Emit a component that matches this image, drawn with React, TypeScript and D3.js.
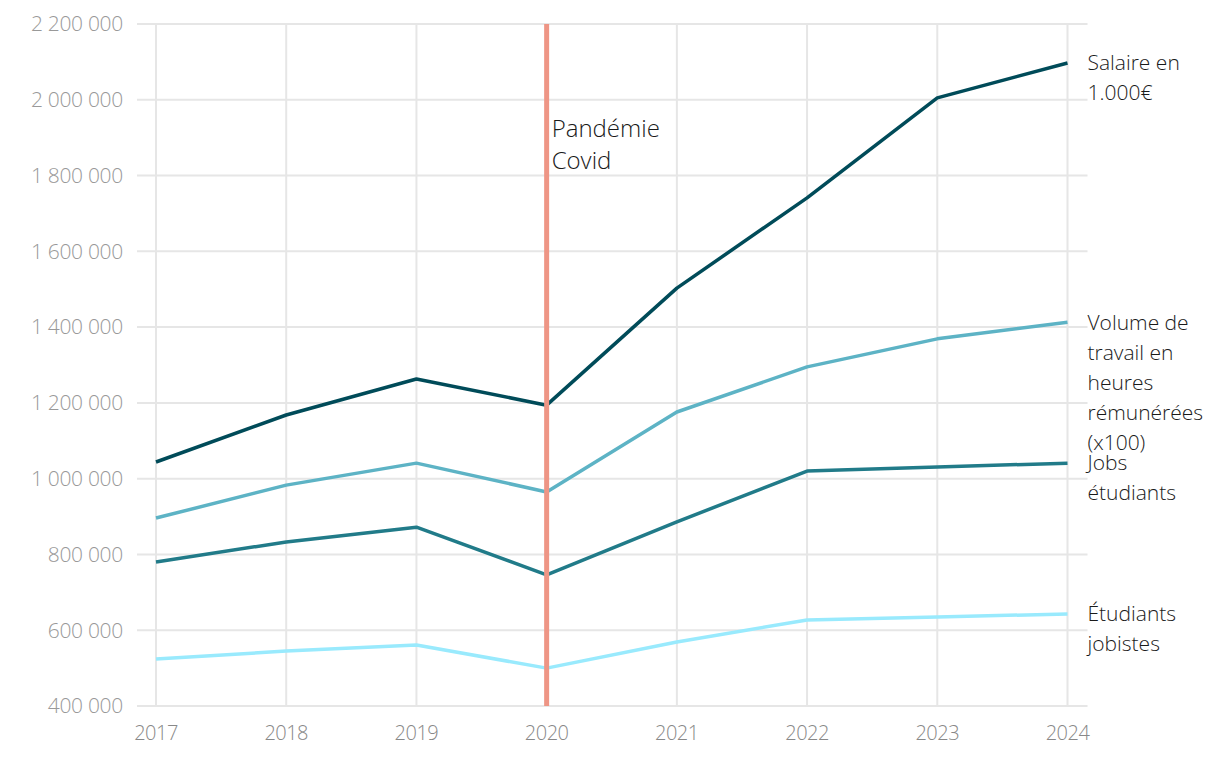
import * as React from 'react'
import * as d3 from 'd3'

const years = [2017, 2018, 2019, 2020, 2021, 2022, 2023, 2024]

const salaire = [1044000, 1168000, 1263000, 1194000, 1503000, 1741000, 2005000, 2097000]
const volume = [896000, 983000, 1041000, 965000, 1176000, 1295000, 1369000, 1413000]
const jobs = [780000, 833000, 872000, 746000, 886000, 1020000, 1031000, 1041000]
const etudiants = [524000, 545000, 561000, 500000, 569000, 627000, 635000, 643000]

const yTicks = [400000, 600000, 800000, 1000000, 1200000, 1400000, 1600000, 1800000, 2000000, 2200000]

const series = [
  { name: ['Salaire en', '1.000€'], values: salaire, color: '#004b59' },
  { name: ['Volume de', 'travail en', 'heures', 'rémunérées', '(x100)'], values: volume, color: '#5db3c5' },
  { name: ['Jobs', 'étudiants'], values: jobs, color: '#217b89' },
  { name: ['Étudiants', 'jobistes'], values: etudiants, color: '#99eafd' },
]

const covidYear = 2020
const covidLabel = ['Pandémie', 'Covid']

const W = 1204
const H = 750
const font = '"Open Sans", Lato, sans-serif'

export default function App() {
  const x = d3.scaleLinear().domain([2017, 2024]).range([148, 1059.5])
  const y = d3.scaleLinear().domain([400000, 2200000]).range([698, 16])
  const fmt = (v: number) => d3.format(',')(v).replace(/,/g, ' ')
  const line = d3
    .line<number>()
    .x((_, i) => x(years[i]))
    .y(d => y(d))

  const gridX0 = x(2017) - 19
  const gridX1 = x(2024) + 20

  return (
    <svg width={W} height={H} style={{ display: 'block', fontFamily: font }}>
      {/* grid */}
      {yTicks.map(t => (
        <line key={t} x1={gridX0} x2={gridX1} y1={y(t)} y2={y(t)} stroke="#e6e6e6" strokeWidth={2} />
      ))}
      {years.map(yr => (
        <line key={yr} x1={x(yr)} x2={x(yr)} y1={y(2200000)} y2={y(400000)} stroke="#e6e6e6" strokeWidth={2} />
      ))}
      {yTicks.map(t => (
        <text key={t} x={115} y={y(t)} dy="0.35em" textAnchor="end" fontSize={21} fontWeight={300} fill="#999" letterSpacing={-0.3}>
          {fmt(t)}
        </text>
      ))}
      {years.map(yr => (
        <text key={yr} x={x(yr)} y={y(400000) + 34} textAnchor="middle" fontSize={20} fontWeight={300} fill="#888" letterSpacing={-0.5}>
          {yr}
        </text>
      ))}

      {/* lines */}
      {series.map(s => (
        <path key={s.name[0]} d={line(s.values) || ''} fill="none" stroke={s.color} strokeWidth={3.5} strokeLinejoin="round" />
      ))}

      {/* covid marker */}
      <line x1={x(covidYear)} x2={x(covidYear)} y1={y(2200000)} y2={y(400000)} stroke="#ee9585" strokeWidth={5} />
      <text x={x(covidYear) + 5} fontSize={24} fontWeight={300} fill="#1a1a1a">
        {covidLabel.map((l, i) => (
          <tspan key={l} x={x(covidYear) + 5} y={y(2000000) + 37 + i * 32}>
            {l}
          </tspan>
        ))}
      </text>

      {/* series labels */}
      {series.map(s => {
        const last = s.values[s.values.length - 1]
        return (
          <text key={s.name[0]} fontSize={21} fontWeight={300} fill="#1a1a1a">
            {s.name.map((l, i) => (
              <tspan key={l} x={gridX1} y={y(last) + i * 30} dy="0.35em">
                {l}
              </tspan>
            ))}
          </text>
        )
      })}
    </svg>
  )
}
